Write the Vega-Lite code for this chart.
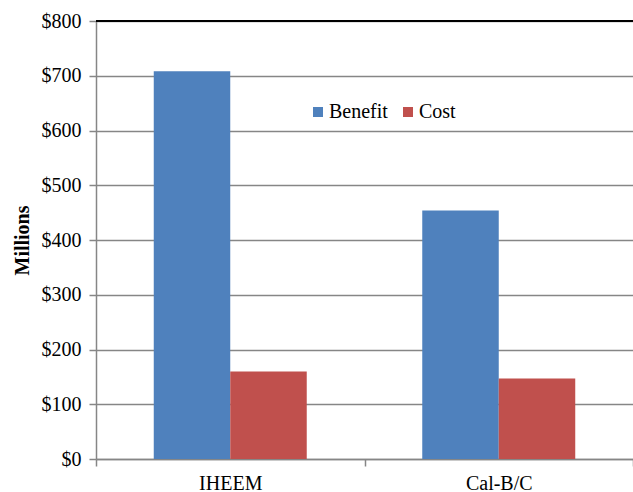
{
  "$schema": "https://vega.github.io/schema/vega-lite/v6.json",
  "autosize": "none",
  "width": 537,
  "height": 438,
  "padding": {"left": 96, "top": 21, "right": 0, "bottom": 33},
  "background": "white",
  "config": {
    "view": {"stroke": null},
    "font": "Liberation Serif",
    "axis": {
      "labelFont": "Liberation Serif",
      "titleFont": "Liberation Serif",
      "labelFontSize": 20,
      "labelColor": "#000000",
      "domainColor": "#868686",
      "tickColor": "#868686",
      "domainWidth": 1.5,
      "tickWidth": 1.5,
      "tickSize": 7,
      "labelOverlap": false
    }
  },
  "data": {
    "values": [
      {"model": "IHEEM", "measure": "Benefit", "value": 708},
      {"model": "IHEEM", "measure": "Cost", "value": 160},
      {"model": "Cal-B/C", "measure": "Benefit", "value": 454},
      {"model": "Cal-B/C", "measure": "Cost", "value": 147}
    ]
  },
  "layer": [
    {
      "mark": {"type": "bar"},
      "encoding": {
        "x": {
          "field": "model",
          "type": "nominal",
          "sort": ["IHEEM", "Cal-B/C"],
          "scale": {"paddingInner": 0, "paddingOuter": 0},
          "axis": {
            "title": null,
            "labelAngle": 0,
            "labelPadding": 7,
            "tickBand": "extent",
            "grid": false
          }
        },
        "xOffset": {
          "field": "measure",
          "type": "nominal",
          "scale": {"paddingInner": 0, "paddingOuter": 0.755}
        },
        "y": {
          "field": "value",
          "type": "quantitative",
          "scale": {"domain": [0, 800], "nice": false},
          "axis": {
            "title": "Millions",
            "titleFontSize": 20,
            "titleFontWeight": "bold",
            "titleColor": "#000000",
            "titlePadding": 9,
            "format": "$d",
            "values": [0, 100, 200, 300, 400, 500, 600, 700, 800],
            "labelPadding": 8,
            "grid": true,
            "gridColor": "#868686",
            "gridWidth": 1.5
          }
        },
        "color": {
          "field": "measure",
          "type": "nominal",
          "scale": {"domain": ["Benefit", "Cost"], "range": ["#4F81BD", "#C0504D"]},
          "legend": {
            "title": null,
            "orient": "none",
            "legendX": 212,
            "legendY": 81,
            "direction": "horizontal",
            "symbolType": "square",
            "symbolSize": 100,
            "symbolStrokeWidth": 0,
            "labelFont": "Liberation Serif",
            "labelFontSize": 20,
            "labelColor": "#000000",
            "labelOffset": 1,
            "columnPadding": 10
          }
        }
      }
    },
    {
      "mark": {"type": "rule", "color": "#000000", "strokeWidth": 1.5},
      "encoding": {"y": {"datum": 800, "type": "quantitative"}}
    }
  ]
}
